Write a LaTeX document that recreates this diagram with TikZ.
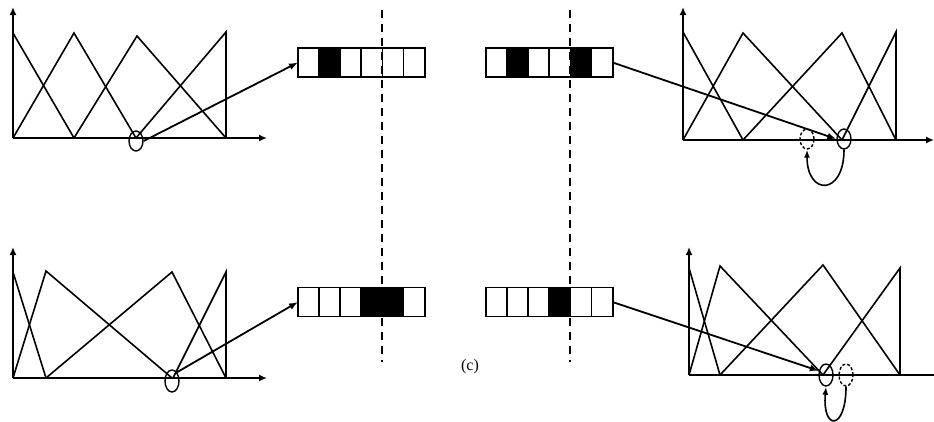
\documentclass[tikz,border=0pt]{standalone}
\usepackage{fontspec}
\setmainfont{Liberation Serif}
\usetikzlibrary{arrows.meta,shapes.geometric}
\begin{document}
\begin{tikzpicture}[x=1pt,y=-1pt,
  mf/.style={line width=1.6pt, line join=miter},
  axis/.style={line width=2.2pt, -{Latex[length=8pt,width=7pt]}},
  plainaxis/.style={line width=2.2pt},
  cell/.style={draw, line width=1.8pt, minimum width=21.1pt, minimum height=29pt, inner sep=0pt, outer sep=0pt, anchor=west},
  full/.style={cell, fill=black},
  ring/.style={draw, ellipse, line width=1.4pt, minimum width=14pt, minimum height=20pt, inner sep=0pt},
  dring/.style={ring, dash pattern=on 3pt off 2pt},
  conn/.style={line width=1.8pt, -{Latex[length=9pt,width=7pt]}},
  loop/.style={line width=1.6pt, -{Latex[length=8pt,width=6pt]}},
  guide/.style={line width=1.4pt, dash pattern=on 8pt off 6pt},
  lbl/.style={font=\fontsize{16}{18}\selectfont, inner sep=0pt}]
\useasboundingbox (0,0) rectangle (934,421);

% ---------- guides
\coordinate (g1t) at (382,10); \coordinate (g1b) at (382,362);
\coordinate (g2t) at (570,10); \coordinate (g2b) at (570,362);
\draw[guide] (g1t) -- (g1b);
\draw[guide] (g2t) -- (g2b);

% ---------- top-left chart
\coordinate (o1) at (13,138);
\coordinate (y1) at (13,7);
\coordinate (x1) at (267,138);
\draw[axis] (o1) -- (y1);
\draw[axis] (o1) -- (x1);
\draw[mf] (13,33) -- (74,138);
\draw[mf] (13,138) -- (74,33) -- (136,138);
\draw[mf] (74,138) -- (137,36) -- (226,138);
\draw[mf] (136,138) -- (226,32) -- (226,138);
\node[ring] (c1) at (136,141) {};

% ---------- top-right chart
\coordinate (o2) at (683,140);
\coordinate (y2) at (683,7);
\coordinate (x2) at (934,140);
\draw[axis] (o2) -- (y2);
\draw[axis] (o2) -- (x2);
\draw[mf] (683,32) -- (743,140);
\draw[mf] (683,140) -- (743,33) -- (842,140);
\draw[mf] (743,140) -- (842,33) -- (896,140);
\draw[mf] (842,140) -- (896,32) -- (896,140);
\node[ring] (c2) at (844,139) {};
\node[dring] (d2) at (807,139) {};

% ---------- bottom-left chart
\coordinate (o3) at (13,378);
\coordinate (y3) at (13,247);
\coordinate (x3) at (267,378);
\draw[axis] (o3) -- (y3);
\draw[axis] (o3) -- (x3);
\draw[mf] (13,272) -- (46,378);
\draw[mf] (13,378) -- (46,271) -- (172,378);
\draw[mf] (46,378) -- (172,272) -- (226,378);
\draw[mf] (173,378) -- (226,272) -- (226,378);
\node[ring, minimum height=22pt] (c3) at (172,381) {};

% ---------- bottom-right chart
\coordinate (o4) at (689,375);
\coordinate (y4) at (689,247);
\coordinate (x4) at (934,375);
\draw[axis] (o4) -- (y4);
\draw[plainaxis] (o4) -- (x4);
\draw[mf] (689,268) -- (720,375);
\draw[mf] (689,375) -- (720,266) -- (823,375);
\draw[mf] (720,375) -- (823,265) -- (900,375);
\draw[mf] (823,375) -- (900,268) -- (900,375);
\node[ring, minimum height=22pt] (c4) at (826,375) {};
\node[dring, minimum height=22pt] (d4) at (846,375) {};

% ---------- registers
\node[cell] (a1) at (298,62.5) {};
\node[full] (a2) at (a1.east) {};
\node[cell] (a3) at (a2.east) {};
\node[cell] (a4) at (a3.east) {};
\node[cell] (a5) at (a4.east) {};
\node[cell] (a6) at (a5.east) {};

\node[cell] (b1) at (486,62.5) {};
\node[full] (b2) at (b1.east) {};
\node[cell] (b3) at (b2.east) {};
\node[cell] (b4) at (b3.east) {};
\node[full] (b5) at (b4.east) {};
\node[cell] (b6) at (b5.east) {};

\node[cell] (e1) at (298,302) {};
\node[cell] (e2) at (e1.east) {};
\node[cell] (e3) at (e2.east) {};
\node[full] (e4) at (e3.east) {};
\node[full] (e5) at (e4.east) {};
\node[cell] (e6) at (e5.east) {};

\node[cell] (f1) at (486,302) {};
\node[cell] (f2) at (f1.east) {};
\node[cell] (f3) at (f2.east) {};
\node[full] (f4) at (f3.east) {};
\node[cell] (f5) at (f4.east) {};
\node[cell] (f6) at (f5.east) {};

% ---------- connectors
\draw[conn] (c1.east) -- (a1.west);
\draw[conn] (b6.east) -- (c2.west);
\draw[conn] (c3.60) -- (e1.west);
\draw[conn] (f6.east) -- (c4.150);
\draw[loop] (c2.south) .. controls (844,196) and (807,196) .. (d2.south);
\draw[loop] (d4.south) .. controls (846,431) and (822,431) .. (c4.south);

% ---------- label
\node[lbl] (cap) at (470,367) {(c)};
\end{tikzpicture}
\end{document}
